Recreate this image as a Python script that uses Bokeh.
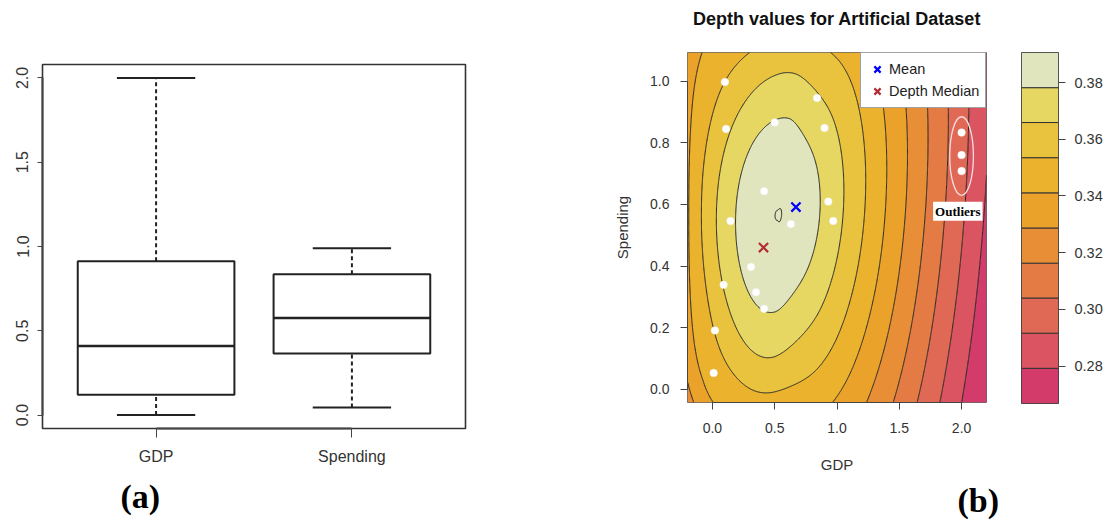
import numpy as np
from bokeh.plotting import figure
from bokeh.layouts import row
from bokeh.models import (ColumnDataSource, FixedTicker, PrintfTickFormatter, Label,
                          Legend, LegendItem, Range1d, Title)
from bokeh.embed import file_html
from bokeh.resources import INLINE

# ---------------- (a) box plot summaries ----------------
box_names = ["GDP", "Spending"]
box_min = [0.00, 0.045]
box_q1 = [0.12, 0.365]
box_med = [0.41, 0.575]
box_q3 = [0.913, 0.835]
box_max = [2.00, 0.99]
a_yticks = [0.0, 0.5, 1.0, 1.5, 2.0]

# ---------------- (b) data points ----------------
gdp_pts = [0.10, 0.11, 0.50, 0.84, 0.90, 0.415, 0.93, 0.97, 0.145, 0.63,
           0.31, 0.09, 0.35, 0.415, 0.02, 0.01, 2.00, 2.00, 2.00]
spend_pts = [0.997, 0.845, 0.866, 0.945, 0.848, 0.643, 0.609, 0.546, 0.546, 0.536,
             0.397, 0.339, 0.315, 0.261, 0.191, 0.053, 0.833, 0.760, 0.708]
median_gdp = [0.41]
median_spend = [0.46]
b_xticks = [0.0, 0.5, 1.0, 1.5, 2.0]
b_yticks = [0.0, 0.2, 0.4, 0.6, 0.8, 1.0]

# depth levels (colour-bar band edges) and band colours, bottom -> top
depth_levels = [0.2668, 0.2792, 0.2916, 0.3040, 0.3163, 0.3287,
                0.3411, 0.3535, 0.3659, 0.3782, 0.3906]
band_colors = ["#D33C6A", "#DA5461", "#E06955", "#E47B45", "#E88E36",
               "#EBA22A", "#EBB22D", "#E9C33E", "#E5D762", "#E0E5BD"]
cbar_ticks = [0.28, 0.30, 0.32, 0.34, 0.36, 0.38]

# depth-surface shape (fitted by eye to the contour lines of the reference)
surf_center = (0.52, 0.565)
surf_shear = 0.18
surf_vscale = 1.055
surf_bowl = (0.678, 6.98)        # left / vertical profile (levels vs distance)
surf_cone = (6.49, 0.30)         # right-hand profile
surf_right_y = (1.22, 0.16, 0.12)
surf_peak_levels = 0.0136

FONT = "Liberation Sans"
TXT = "#333333"


def style_axis(ax, size="14px", label_size="15px"):
    ax.major_label_text_font = FONT
    ax.major_label_text_font_size = size
    ax.major_label_text_color = TXT
    ax.axis_label_text_font = FONT
    ax.axis_label_text_font_size = label_size
    ax.axis_label_text_font_style = "normal"
    ax.axis_label_text_color = TXT
    ax.major_tick_in = 0
    ax.major_tick_out = 7
    ax.minor_tick_line_color = None
    ax.major_tick_line_color = "#444444"
    ax.axis_line_color = "#444444"


def panel_tag(text, offset, standoff):
    return Title(text=text, align="left", offset=offset, standoff=standoff,
                 vertical_align="top", text_font="Liberation Serif",
                 text_font_style="bold", text_font_size="34px", text_color="black")


def smoothstep(t):
    t = np.clip(t, 0.0, 1.0)
    return t * t * (3 - 2 * t)


# =============== (a) box plot ===============
pa = figure(width=560, height=526, x_range=Range1d(0.42, 2.58), y_range=Range1d(-0.08, 2.08),
            output_backend="svg", toolbar_location=None, frame_align=False,
            min_border_left=42, min_border_right=95, min_border_top=64, min_border_bottom=96)
pa.grid.visible = False
pa.outline_line_color = "#333333"
pa.outline_line_width = 1.6

pos = [i + 1 for i in range(len(box_names))]
bsrc = ColumnDataSource(dict(
    x=pos, lo=box_min, q1=box_q1, med=box_med, q3=box_q3, hi=box_max,
    left=[p - 0.4 for p in pos], right=[p + 0.4 for p in pos],
    sl=[p - 0.2 for p in pos], sr=[p + 0.2 for p in pos]))
LC = "#222222"
pa.segment(x0="x", x1="x", y0="q3", y1="hi", source=bsrc, line_color=LC, line_width=2, line_dash="4 3")
pa.segment(x0="x", x1="x", y0="lo", y1="q1", source=bsrc, line_color=LC, line_width=2, line_dash="4 3")
pa.segment(x0="sl", x1="sr", y0="hi", y1="hi", source=bsrc, line_color=LC, line_width=2)
pa.segment(x0="sl", x1="sr", y0="lo", y1="lo", source=bsrc, line_color=LC, line_width=2)
pa.quad(left="left", right="right", bottom="q1", top="q3", source=bsrc,
        fill_color="white", line_color=LC, line_width=2)
pa.segment(x0="left", x1="right", y0="med", y1="med", source=bsrc, line_color=LC, line_width=2.5)

style_axis(pa.xaxis[0], "16px")
style_axis(pa.yaxis[0], "16px")
pa.xaxis.ticker = FixedTicker(ticks=pos)
pa.xaxis.major_label_overrides = {p: n for p, n in zip(pos, box_names)}
pa.xaxis.bounds = (pos[0], pos[-1])
pa.xaxis.major_tick_out = 9
pa.xaxis.major_label_standoff = 10
pa.xaxis.axis_line_width = 2
pa.yaxis.ticker = FixedTicker(ticks=a_yticks)
pa.yaxis.formatter = PrintfTickFormatter(format="%.1f")
pa.yaxis.bounds = (a_yticks[0], a_yticks[-1])
pa.yaxis.major_label_orientation = "vertical"
pa.yaxis.major_tick_out = 5
pa.yaxis.major_label_standoff = 9
pa.yaxis.axis_line_width = 2
pa.add_layout(panel_tag("(a)", 78, 20), "below")

# =============== (b) depth contour plot ===============
x_lo, x_hi = -0.2, 2.2
y_lo, y_hi = -0.043, 1.093
pb = figure(width=440, height=526, x_range=Range1d(x_lo, x_hi), y_range=Range1d(y_lo, y_hi),
            output_backend="svg", toolbar_location=None, frame_align=False,
            min_border_left=127, min_border_right=14, min_border_top=52, min_border_bottom=123)
# the second (empty) line lifts the title towards the top of the page
pb.title = Title(text="Depth values for Artificial Dataset\n", align="center", vertical_align="top",
                 standoff=4, text_font=FONT, text_font_size="18px", text_font_style="bold",
                 text_color="#111111")
pb.grid.visible = False
pb.outline_line_color = "#666666"
pb.outline_line_width = 1

# depth surface on a grid
gx = np.linspace(x_lo, x_hi, 481)
gy = np.linspace(y_lo, y_hi, 381)
X, Y = np.meshgrid(gx, gy)
dx = X - surf_center[0]
dy = Y - surf_center[1]
u = dx - surf_shear * dy * np.clip((dx + 0.6) / 0.6, 0, 1)
vy = surf_vscale * dy
r2 = np.sqrt(u ** 2 + vy ** 2)
pn = 2.0 + 1.5 * smoothstep((r2 - 0.55) / 0.3)
rL = (np.abs(u) ** pn + np.abs(vy) ** pn) ** (1.0 / pn)
GL = surf_bowl[0] * rL + surf_bowl[1] * rL ** 2
up = np.clip(u, 0, None)
sR = surf_right_y[0] / (1 + surf_right_y[1] * up + surf_right_y[2] * up ** 2)
rR = np.sqrt(u ** 2 + (sR * dy) ** 2)
GR = surf_cone[0] * (np.sqrt(rR ** 2 + surf_cone[1] ** 2) - surf_cone[1])
cos_t = np.clip(u / np.maximum(r2, 1e-9), 0, 1)
wR = smoothstep((cos_t - 0.1) / 0.7)
nlev = wR * GR + (1 - wR) * GL
step = (depth_levels[-1] - depth_levels[0]) / (len(depth_levels) - 1)
Z = depth_levels[-1] - step * nlev

fill_levels = ([depth_levels[0] - 0.05] + depth_levels[1:-1] +
               [depth_levels[-1] - surf_peak_levels * step, depth_levels[-1] + 0.05])
fill_cols = band_colors + [band_colors[-1]]
pb.contour(x=gx, y=gy, z=Z, levels=fill_levels, fill_color=fill_cols,
           line_color="#1e1e1e", line_width=1)

# points
pb.scatter(gdp_pts, spend_pts, size=7.5, fill_color="white", line_color="#f4f4f4", line_width=0.6)

# outlier ellipse and label
out_x = [g for g in gdp_pts if g > 1.5]
out_y = [s for g, s in zip(gdp_pts, spend_pts) if g > 1.5]
ocx = float(np.mean(out_x))
ocy = float(np.mean(out_y)) - 0.01
pb.ellipse(x=[ocx], y=[ocy], width=[0.19], height=[max(out_y) - min(out_y) + 0.13],
           fill_color=None, line_color="#F6DEDE", line_width=1.3)
pb.add_layout(Label(x=ocx - 0.03, y=min(out_y) - 0.13, text="Outliers",
                    text_font="Liberation Serif", text_font_style="bold", text_font_size="13px",
                    text_color="black", text_align="center", text_baseline="middle",
                    background_fill_color="white", padding=2))

# mean and depth median
mean_x = [float(np.mean(gdp_pts))]
mean_y = [float(np.mean(spend_pts))]
r_mean = pb.scatter(mean_x, mean_y, marker="x", size=13, line_color="#0000FF", line_width=2.2)
r_med = pb.scatter(median_gdp, median_spend, marker="x", size=13, line_color="#B22D35", line_width=2.2)

legend = Legend(items=[LegendItem(label="Mean", renderers=[r_mean]),
                       LegendItem(label="Depth Median", renderers=[r_med])],
                location="top_right", margin=0, padding=5, spacing=0,
                glyph_width=22, glyph_height=22, label_height=22, label_width=91,
                label_standoff=1,
                label_text_font=FONT, label_text_font_size="14.5px", label_text_color="#222222",
                border_line_color="#444444", border_line_width=1, background_fill_alpha=1)
pb.add_layout(legend)

style_axis(pb.xaxis[0])
style_axis(pb.yaxis[0])
pb.xaxis.ticker = FixedTicker(ticks=b_xticks)
pb.yaxis.ticker = FixedTicker(ticks=b_yticks)
pb.xaxis.formatter = PrintfTickFormatter(format="%.1f")
pb.yaxis.formatter = PrintfTickFormatter(format="%.1f")
pb.xaxis.bounds = (b_xticks[0], b_xticks[-1])
pb.yaxis.bounds = (b_yticks[0], b_yticks[-1])
pb.xaxis.axis_label = "GDP"
pb.yaxis.axis_label = "Spending"
pb.xaxis.major_label_standoff = 13
pb.yaxis.major_label_standoff = 11
pb.xaxis.axis_label_standoff = 20
pb.yaxis.axis_label_standoff = 16
pb.add_layout(panel_tag("(b)", 270, 12), "below")

# =============== colour bar ===============
pc = figure(width=116, height=526, x_range=Range1d(0, 1),
            y_range=Range1d(depth_levels[0], depth_levels[-1]),
            output_backend="svg", toolbar_location=None, frame_align=False,
            x_axis_location=None, y_axis_location="right",
            min_border_left=21, min_border_right=58, min_border_top=52, min_border_bottom=123)
pc.grid.visible = False
pc.outline_line_color = "#555555"
pc.quad(left=0, right=1, bottom=depth_levels[:-1], top=depth_levels[1:],
        fill_color=band_colors, line_color="#333333", line_width=1)
style_axis(pc.yaxis[0], "14.5px")
pc.yaxis.ticker = FixedTicker(ticks=cbar_ticks)
pc.yaxis.formatter = PrintfTickFormatter(format="%.2f")
pc.yaxis.axis_line_color = None
pc.yaxis.major_label_standoff = 9

layout = row(pa, pb, pc)
open("out.html", "w").write(file_html(layout, INLINE))
